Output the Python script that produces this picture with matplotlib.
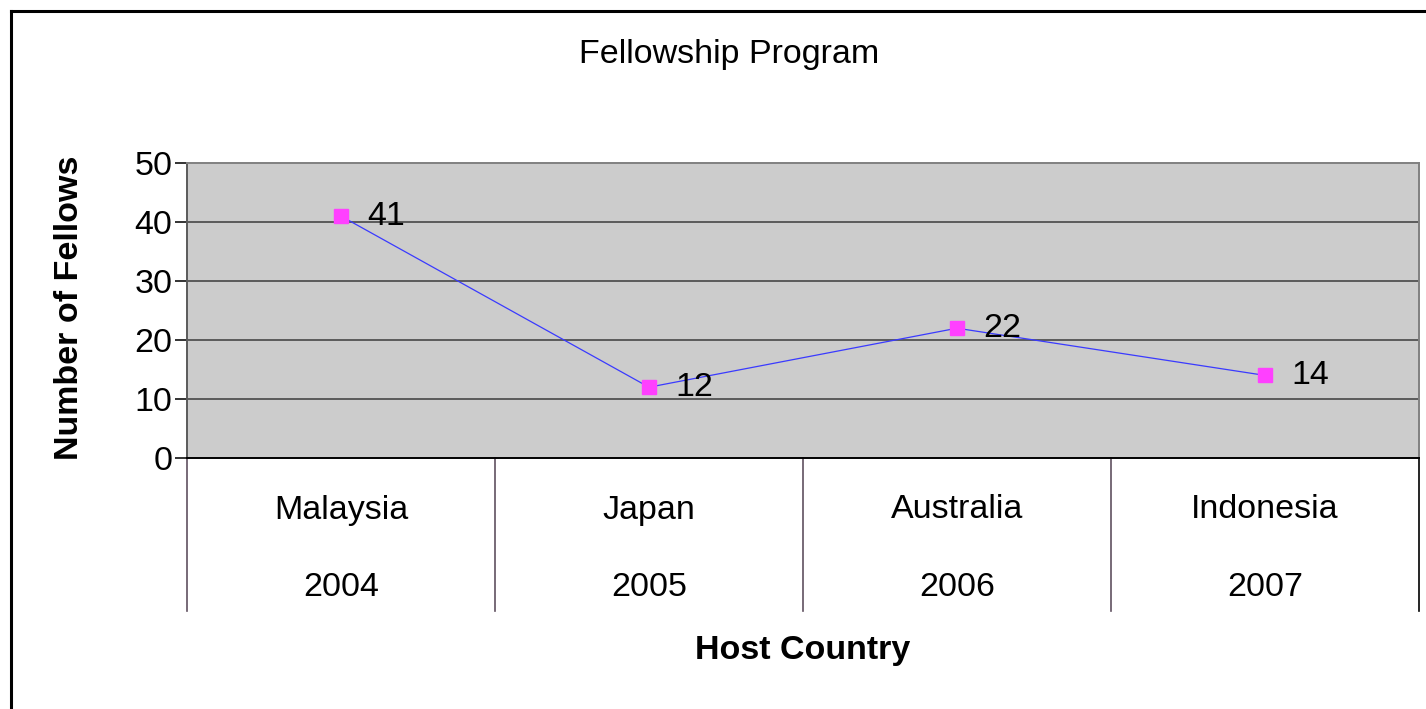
import matplotlib
matplotlib.use("Agg")
import matplotlib.pyplot as plt
from matplotlib.lines import Line2D
from matplotlib.transforms import blended_transform_factory

# chart data
COUNTRIES = ["Malaysia", "Japan", "Australia", "Indonesia"]
YEARS = ["2004", "2005", "2006", "2007"]
FELLOWS = [41, 12, 22, 14]
Y_TICKS = [0, 10, 20, 30, 40, 50]

W, H = 1426, 709
FONT = "Liberation Sans"
FS = 24.5

plt.rcParams["font.family"] = [FONT, "DejaVu Sans"]

fig = plt.figure(figsize=(W / 100, H / 100), dpi=100)
fig.patch.set_facecolor("white")

# plot area placed in pixels
left, right, top, bottom = 187, 1419, 163, 458
ax = fig.add_axes([left / W, 1 - bottom / H, (right - left) / W, (bottom - top) / H])
ax.set_facecolor("#cccccc")

x = list(range(len(COUNTRIES)))
ax.set_xlim(-0.5, len(COUNTRIES) - 0.5)
ax.set_ylim(Y_TICKS[0], Y_TICKS[-1])

# gridlines
for t in Y_TICKS[1:-1]:
    ax.axhline(t, color="#5a5a5a", linewidth=1.4, zorder=1)

# the series
ax.plot(x, FELLOWS, color="#3a3aff", linewidth=0.9, zorder=3)
ax.plot(x, FELLOWS, linestyle="none", marker="s", markersize=10.5,
        markerfacecolor="#ff40ff", markeredgecolor="#ff40ff", zorder=4)

# data labels
for xi, v in zip(x, FELLOWS):
    ax.annotate(str(v), (xi, v), xytext=(19, 0), textcoords="offset points",
                ha="left", va="center", fontsize=FS, color="black", zorder=5)

# spines
ax.spines["top"].set_color("#808080")
ax.spines["right"].set_color("#808080")
ax.spines["left"].set_color("#5a5a5a")
ax.spines["bottom"].set_color("black")
for s in ax.spines.values():
    s.set_linewidth(1.4)

ax.set_yticks(Y_TICKS)
ax.set_yticklabels([str(t) for t in Y_TICKS], fontsize=FS)
ax.tick_params(axis="y", length=8.6, width=1.4, color="#333333", pad=2)
ax.set_xticks([])

# multi-level category axis below
trans = blended_transform_factory(ax.transData, ax.transAxes)
axis_h = bottom - top
sep_depth = (611 - bottom) / axis_h
for i in range(len(COUNTRIES) + 1):
    b = i - 0.5
    col = "black" if i == len(COUNTRIES) else "#605060"
    ax.add_line(Line2D([b, b], [0, -sep_depth], transform=trans, color=col,
                       linewidth=1.2, clip_on=False))

for xi, c, yr in zip(x, COUNTRIES, YEARS):
    ax.text(xi, -(510 - bottom) / axis_h, c, transform=trans, ha="center",
            va="center", fontsize=FS)
    ax.text(xi, -(587 - bottom) / axis_h, yr, transform=trans, ha="center",
            va="center", fontsize=FS)

# title and axis titles
fig.text(729.5 / W, 1 - 54 / H, "Fellowship Program", ha="center", va="center",
         fontsize=FS)
fig.text(803 / W, 1 - 650 / H, "Host Country", ha="center", va="center",
         fontsize=FS, fontweight="bold")
fig.text(70 / W, 1 - 308 / H, "Number of Fellows", ha="center", va="center",
         rotation=90, fontsize=FS, fontweight="bold")

# outer border (top and left only visible)
fig.add_artist(Line2D([10.5 / W, 1], [1 - 10.5 / H, 1 - 10.5 / H],
                      transform=fig.transFigure, color="black", linewidth=2.2))
fig.add_artist(Line2D([10.5 / W, 10.5 / W], [0, 1 - 10.5 / H],
                      transform=fig.transFigure, color="black", linewidth=2.2))

fig.savefig("out.png", dpi=100)
